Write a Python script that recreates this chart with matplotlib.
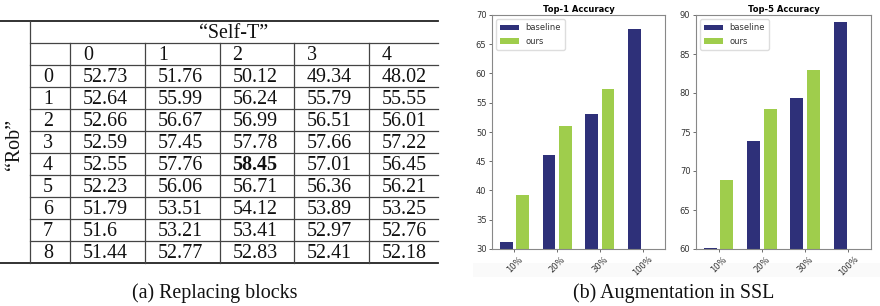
import matplotlib
matplotlib.use("Agg")
import matplotlib.pyplot as plt
import numpy as np

# ---------------- data ----------------
self_t_levels = ["0", "1", "2", "3", "4"]
rob_levels = ["0", "1", "2", "3", "4", "5", "6", "7", "8"]
row0 = ["52.73", "51.76", "50.12", "49.34", "48.02"]
row1 = ["52.64", "55.99", "56.24", "55.79", "55.55"]
row2 = ["52.66", "56.67", "56.99", "56.51", "56.01"]
row3 = ["52.59", "57.45", "57.78", "57.66", "57.22"]
row4 = ["52.55", "57.76", "58.45", "57.01", "56.45"]
row5 = ["52.23", "56.06", "56.71", "56.36", "56.21"]
row6 = ["51.79", "53.51", "54.12", "53.89", "53.25"]
row7 = ["51.6", "53.21", "53.41", "52.97", "52.76"]
row8 = ["51.44", "52.77", "52.83", "52.41", "52.18"]
table_rows = [row0, row1, row2, row3, row4, row5, row6, row7, row8]
best_cell = (4, 2)

fractions = ["10%", "20%", "30%", "100%"]
top1_baseline = [31.25, 46.0, 53.1, 67.55]
top1_ours = [39.2, 51.1, 57.35, 0]
top5_baseline = [60.17, 73.9, 79.4, 89.15]
top5_ours = [68.8, 77.95, 82.9, 0]

W, H = 880, 306
fig = plt.figure(figsize=(W / 100, H / 100), dpi=100)

# ---------------- table (pixel coordinate canvas) ----------------
ax = fig.add_axes([0, 0, 1, 1])
ax.set_xlim(0, W)
ax.set_ylim(H, 0)
ax.axis("off")

serif = ["Liberation Serif", "DejaVu Serif"]
fs = 14.4
col_x = [30, 70, 145, 219.5, 294, 368.5, 438]
y_top, y_head = 21, 43
row_h = 22
n_rows = len(rob_levels) + 1
y_bot = y_head + n_rows * row_h
lc = "#444444"

ax.plot([0, 438], [y_top, y_top], color="#222222", lw=1.3)
ax.plot([0, 438], [y_bot, y_bot], color="#222222", lw=1.3)
for i in range(n_rows):
    y = y_head + i * row_h
    ax.plot([30, 438], [y, y], color=lc, lw=0.9)
ax.plot([30, 30], [y_top, y_bot], color=lc, lw=0.9)
for x in col_x[1:-1]:
    ax.plot([x, x], [y_head, y_bot], color=lc, lw=0.9)

ax.text((30 + 438) / 2, (y_top + y_head) / 2 + 1, "\u201cSelf-T\u201d", family=serif,
        fontsize=fs, ha="center", va="center", color="#111111")
ax.text(14, (y_head + y_bot) / 2 - 9, "\u201cRob\u201d", family=serif, fontsize=fs,
        ha="center", va="center", rotation=90, color="#111111")

pad = 13
yc = y_head + row_h / 2 + 1
for j, lab in enumerate(self_t_levels):
    ax.text(col_x[j + 1] + pad, yc, lab, family=serif, fontsize=fs, ha="left",
            va="center", color="#111111")
for i, lab in enumerate(rob_levels):
    y = y_head + (i + 1) * row_h + row_h / 2 + 1
    ax.text(col_x[0] + pad, y, lab, family=serif, fontsize=fs, ha="left", va="center",
            color="#111111")
    for j, v in enumerate(table_rows[i]):
        bold = (i, j) == best_cell
        ax.text(col_x[j + 1] + pad, y, v, family=serif, fontsize=fs, ha="left",
                va="center", fontweight="bold" if bold else "normal", color="#111111")

ax.text(215, 293, "(a) Replacing blocks", family=serif, fontsize=fs, ha="center",
        va="center", color="#111111")
ax.text(674, 293, "(b) Augmentation in SSL", family=serif, fontsize=fs, ha="center",
        va="center", color="#111111")

# faint band under the embedded chart image
ax.add_patch(plt.Rectangle((473, 263), W - 473, 14, color="#fafafa", lw=0, zorder=0))

# ---------------- bar charts ----------------
c_base = "#2e3079"
c_ours = "#9fcd4c"
x = np.arange(len(fractions))
w = 0.30
off = 0.19


def bar_chart(rect, base, ours, ylim, yticks, title):
    a = fig.add_axes(rect)
    a.bar(x - off, base, w, color=c_base, label="baseline")
    a.bar(x + off, ours, w, color=c_ours, label="ours")
    a.set_ylim(*ylim)
    a.set_yticks(yticks)
    a.set_xticks(x)
    a.set_xticklabels(fractions, rotation=45, ha="center")
    a.tick_params(labelsize=6, length=2.5, width=0.6, colors="#555555",
                  labelcolor="#333333", pad=1.5)
    for s in a.spines.values():
        s.set_color("#888888")
        s.set_linewidth(0.8)
    a.set_title(title, fontsize=6, fontweight="bold", pad=2.5)
    leg = a.legend(loc="upper left", fontsize=6, framealpha=1, edgecolor="#dddddd",
                   handlelength=2.2, borderpad=0.5, labelspacing=0.5)
    for t in leg.get_texts():
        t.set_color("#333333")
    return a


bar_chart([492 / W, 1 - 249 / H, 173 / W, 234 / H], top1_baseline, top1_ours,
          (30, 70), np.arange(30, 71, 5), "Top-1 Accuracy")
bar_chart([696 / W, 1 - 249 / H, 175 / W, 234 / H], top5_baseline, top5_ours,
          (60, 90), np.arange(60, 91, 5), "Top-5 Accuracy")

fig.savefig("out.png", dpi=100)
